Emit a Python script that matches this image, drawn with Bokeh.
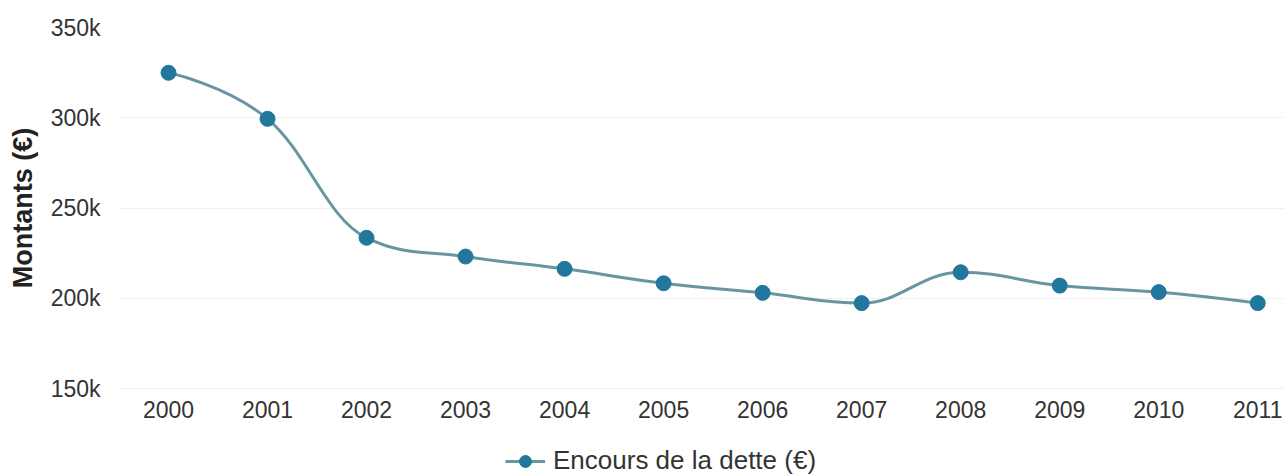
from bokeh.plotting import figure
from bokeh.layouts import column
from bokeh.models import Range1d, FixedTicker, Legend, LegendItem, ColumnDataSource
from bokeh.embed import file_html
from bokeh.resources import INLINE

# ---- data ----
years = [2000, 2001, 2002, 2003, 2004, 2005, 2006, 2007, 2008, 2009, 2010, 2011]
debt = [324900, 299400, 233500, 223100, 216300, 208300, 203000, 197300, 214400, 207000, 203400, 197300]
y_ticks = [150000, 200000, 250000, 300000, 350000]
y_tick_labels = ["150k", "200k", "250k", "300k", "350k"]
x_tick_labels = [str(y) for y in years]
series_name = "Encours de la dette (€)"
y_title = "Montants (€)"

LINE_COLOR = "#6796a2"
MARKER_COLOR = "#22789c"
TEXT_COLOR = "#333333"


def spline_controls(xs, ys, smoothing=1.5):
    """Control points of a Highcharts-style spline through the data points."""
    n = len(xs)
    left = [(xs[i], ys[i]) for i in range(n)]
    right = [(xs[i], ys[i]) for i in range(n)]
    denom = smoothing + 1
    for i in range(1, n - 1):
        px, py = xs[i], ys[i]
        lx, ly = xs[i - 1], ys[i - 1]
        nx, ny = xs[i + 1], ys[i + 1]
        lcx = (smoothing * px + lx) / denom
        lcy = (smoothing * py + ly) / denom
        rcx = (smoothing * px + nx) / denom
        rcy = (smoothing * py + ny) / denom
        if rcx != lcx:
            corr = ((rcy - lcy) * (rcx - px)) / (rcx - lcx) + py - rcy
            lcy += corr
            rcy += corr
        if lcy > ly and lcy > py:
            lcy = max(ly, py)
            rcy = 2 * py - lcy
        elif lcy < ly and lcy < py:
            lcy = min(ly, py)
            rcy = 2 * py - lcy
        if rcy > ny and rcy > py:
            rcy = max(ny, py)
            lcy = 2 * py - rcy
        elif rcy < ny and rcy < py:
            rcy = min(ny, py)
            lcy = 2 * py - rcy
        left[i] = (lcx, lcy)
        right[i] = (rcx, rcy)
    return left, right


left, right = spline_controls(years, debt)
nseg = len(years) - 1
seg = ColumnDataSource(dict(
    x0=years[:-1], y0=debt[:-1], x1=years[1:], y1=debt[1:],
    cx0=[right[i][0] for i in range(nseg)],
    cy0=[right[i][1] for i in range(nseg)],
    cx1=[left[i + 1][0] for i in range(nseg)],
    cy1=[left[i + 1][1] for i in range(nseg)],
))
pts = ColumnDataSource(dict(x=years, y=debt))

# ---- main chart ----
fig = figure(width=1284, height=436,
             x_range=Range1d(1999.495, 2011.27), y_range=Range1d(150000, 350000),
             output_backend="svg", toolbar_location=None,
             min_border_left=118, min_border_right=0, min_border_top=27, min_border_bottom=48)
fig.outline_line_color = None
fig.background_fill_color = "white"
fig.border_fill_color = "white"

fig.xgrid.grid_line_color = None
fig.ygrid.ticker = FixedTicker(ticks=y_ticks)
fig.ygrid.grid_line_color = "#f1f1f1"
fig.ygrid.grid_line_width = 1

fig.yaxis.ticker = FixedTicker(ticks=y_ticks)
fig.yaxis.major_label_overrides = {t: l for t, l in zip(y_ticks, y_tick_labels)}
fig.xaxis.ticker = FixedTicker(ticks=years)
fig.xaxis.major_label_overrides = {y: l for y, l in zip(years, x_tick_labels)}

for ax in (fig.xaxis[0], fig.yaxis[0]):
    ax.major_tick_line_color = None
    ax.minor_tick_line_color = None
    ax.major_label_text_font = "Liberation Sans"
    ax.major_label_text_font_size = "23px"
    ax.major_label_text_color = TEXT_COLOR
fig.xaxis.axis_line_color = "#eeeeee"
fig.yaxis.axis_line_color = None
fig.xaxis.major_label_standoff = 6
fig.yaxis.major_label_standoff = 12

fig.yaxis.axis_label = y_title
fig.yaxis.axis_label_text_font = "Liberation Sans"
fig.yaxis.axis_label_text_font_style = "bold"
fig.yaxis.axis_label_text_font_size = "27px"
fig.yaxis.axis_label_text_color = "#222222"
fig.yaxis.axis_label_standoff = 10

fig.bezier(x0="x0", y0="y0", x1="x1", y1="y1", cx0="cx0", cy0="cy0", cx1="cx1", cy1="cy1",
           source=seg, line_color=LINE_COLOR, line_width=3)
fig.scatter(x="x", y="y", source=pts, size=15, fill_color=MARKER_COLOR,
            line_color=MARKER_COLOR, line_width=1)

# ---- legend strip (its renderers use the same data, outside the strip's view) ----
leg = figure(width=1284, height=40, x_range=Range1d(0, 1), y_range=Range1d(0, 1),
             output_backend="svg", toolbar_location=None,
             x_axis_location=None, y_axis_location=None,
             min_border_left=0, min_border_right=0, min_border_top=0, min_border_bottom=0)
leg.outline_line_color = None
leg.xgrid.grid_line_color = None
leg.ygrid.grid_line_color = None
lg_line = leg.line(x="x", y="y", source=pts, line_color=LINE_COLOR, line_width=3)
lg_dot = leg.scatter(x="x", y="y", source=pts, size=15, fill_color=MARKER_COLOR,
                     line_color=MARKER_COLOR)

legend = Legend(items=[LegendItem(label=series_name, renderers=[lg_line, lg_dot])],
                location=(387, 0), orientation="horizontal",
                border_line_color=None, background_fill_alpha=0,
                padding=0, margin=0, spacing=0,
                glyph_width=40, glyph_height=30, label_height=20, label_standoff=8,
                label_text_font="Liberation Sans", label_text_font_size="26px",
                label_text_color="#333333")
leg.add_layout(legend)

p = column(fig, leg, spacing=0)

open("out.html", "w").write(file_html(p, INLINE))
